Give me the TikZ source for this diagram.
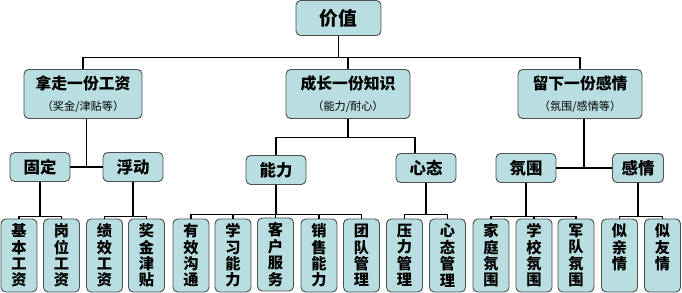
\documentclass[tikz,border=0pt]{standalone}
\usepackage{fontspec}
\setmainfont{Noto Sans CJK SC}
\usetikzlibrary{calc}
\definecolor{boxfill}{HTML}{B8DEE1}
\definecolor{boxline}{HTML}{505050}
\begin{document}
\begin{tikzpicture}[x=0.03cm,y=-0.03cm,line width=1.5pt]
\tikzstyle{b}=[draw=boxline,fill=boxfill,line width=0.8pt,rounded corners=4pt,align=center,inner sep=0pt]
\tikzstyle{lv1}=[b,minimum width=3.72cm,minimum height=1.47cm,font=\fontsize{13.5}{17}\selectfont\bfseries]
\tikzstyle{lv2}=[b,minimum width=1.8cm,minimum height=0.87cm,font=\fontsize{14}{16}\selectfont\bfseries]
\tikzstyle{leaf}=[b,minimum width=1.08cm,minimum height=2.19cm,font=\fontsize{13}{14}\selectfont\bfseries]
\newcommand{\sub}[1]{{\fontsize{9.5}{11}\selectfont\mdseries #1}}
\useasboundingbox (0,0) rectangle (682,293);
\node[b,minimum width=2.55cm,minimum height=1.05cm,font=\fontsize{16}{18}\selectfont\bfseries] (top) at (338.5,18) {价值};
\node[lv1,minimum width=3.54cm] (pay) at (83,94) {拿走一份工资\\[1pt]\sub{（奖金/津贴等）}};
\node[lv1] (know) at (348,94) {成长一份知识\\[1pt]\sub{（能力/耐心）}};
\node[lv1] (emo) at (580,94) {留下一份感情\\[1pt]\sub{（氛围/感情等）}};
\node[lv2] (fix) at (40,167) {固定};
\node[lv2] (flo) at (133,167) {浮动};
\node[lv2] (abi) at (276,170) {能力};
\node[lv2] (att) at (426,168) {心态};
\node[lv2] (atm) at (526,168) {氛围};
\node[lv2,minimum width=1.53cm] (fee) at (638,168) {感情};
\node[leaf] (p1) at (19,255.5) {基\\本\\工\\资};
\node[leaf] (p2) at (61.5,255.5) {岗\\位\\工\\资};
\node[leaf] (p3) at (104.5,255.5) {绩\\效\\工\\资};
\node[leaf] (p4) at (146.5,255.5) {奖\\金\\津\\贴};
\node[leaf] (k1) at (191,255.5) {有\\效\\沟\\通};
\node[leaf] (k2) at (233,255.5) {学\\习\\能\\力};
\node[leaf] (k3) at (275.5,254.5) {客\\户\\服\\务};
\node[leaf] (k4) at (319,255.5) {销\\售\\能\\力};
\node[leaf] (k5) at (361.5,255.5) {团\\队\\管\\理};
\node[leaf] (k6) at (404.5,255.5) {压\\力\\管\\理};
\node[leaf] (k7) at (447.5,255.5) {心\\态\\管\\理};
\node[leaf] (e1) at (491,255.5) {家\\庭\\氛\\围};
\node[leaf] (e2) at (534,255.5) {学\\校\\氛\\围};
\node[leaf] (e3) at (576,255.5) {军\\队\\氛\\围};
\node[leaf] (e4) at (619.5,255.5) {似\\亲\\情\\\phantom{情}};
\node[leaf] (e5) at (662.5,255.5) {似\\友\\情\\\phantom{情}};
\draw (top.south) -- ++(0,21.5) -| (pay.north); \draw (top.south) -- ++(0,21.5) -| (know.north); \draw (top.south) -- ++(0,21.5) -| (emo.north);
\coordinate (pm) at ($(fix.east)!.5!(flo.west)$); \draw (fix) -- (flo); \draw (pay.south -| pm) -- (pm);
\draw (know.south) -- ++(0,18.5) -| (abi.north); \draw (know.south) -- ++(0,18.5) -| ([xshift=-0.33cm]att.north);
\coordinate (em) at ($(atm.east)!.5!(fee.west)$); \draw (atm) -- (fee); \draw (emo.south -| em) -- (em);
\draw (fix.south) -- ++(0,34.5) -| (p1.north); \draw (fix.south) -- ++(0,34.5) -| (p2.north);
\draw (flo.south) -- ++(0,34.5) -| (p3.north); \draw (flo.south) -- ++(0,34.5) -| (p4.north);
\draw (abi.south) -- ++(0,29.5) -| (k1.north); \draw (abi.south) -- ++(0,29.5) -| (k2.north); \draw (abi.south) -- ++(0,29.5) -| (k3.north);
\draw (abi.south) -- ++(0,29.5) -| (k4.north); \draw (abi.south) -- ++(0,29.5) -| (k5.north);
\draw (att.south) -- ++(0,31.5) -| (k6.north); \draw (att.south) -- ++(0,31.5) -| (k7.north);
\draw (atm.south) -- ++(0,33.5) -| (e1.north); \draw (atm.south) -- ++(0,33.5) -| (e2.north); \draw (atm.south) -- ++(0,33.5) -| (e3.north);
\draw (fee.south) -- ++(0,33.5) -| (e4.north); \draw (fee.south) -- ++(0,33.5) -| (e5.north);
\end{tikzpicture}
\end{document}
